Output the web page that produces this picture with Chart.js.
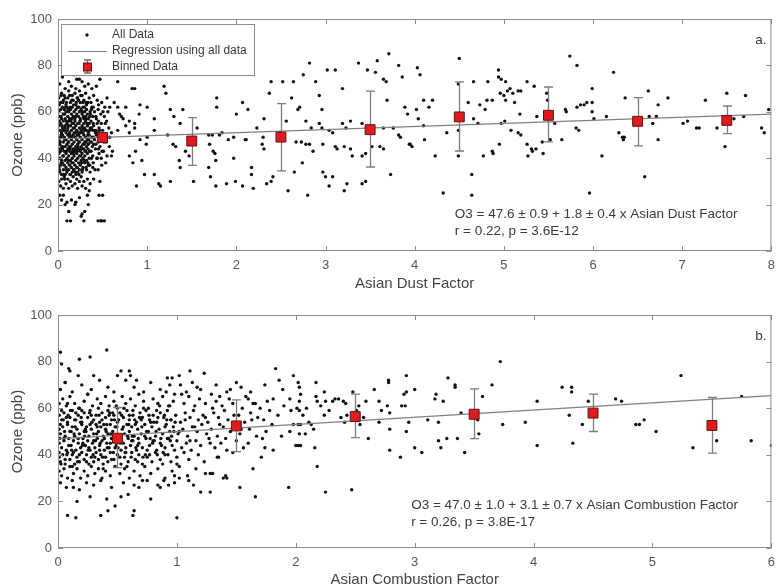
<!DOCTYPE html>
<html>
<head>
<meta charset="utf-8">
<script src="https://cdn.jsdelivr.net/npm/chart.js@4.4.1/dist/chart.umd.min.js"></script>
<style>
  html, body { margin: 0; padding: 0; background: #fff; overflow: hidden; }
  #wrap { position: relative; width: 782px; height: 587px; overflow: hidden; }
  canvas { position: absolute; left: 0; }
  #panel-a { top: 0; }
  #panel-b { top: 300px; }
</style>
</head>
<body>
<div id="wrap">
  <canvas id="panel-a" width="782" height="300"></canvas>
  <canvas id="panel-b" width="782" height="290"></canvas>
</div>
<script>
// ---- panel a : Asian Dust Factor ----
const dustBinX = [0.5, 1.5, 2.5, 3.5, 4.5, 5.5, 6.5, 7.5];
const dustBinMean = [48.9, 47.4, 49.1, 52.3, 57.8, 58.5, 55.9, 56.3];
const dustBinLow = [47.6, 36.9, 34.5, 36.2, 43.1, 47.0, 45.3, 50.6];
const dustBinHigh = [50.2, 57.5, 63.5, 68.9, 72.9, 70.7, 66.1, 62.5];
const dustRegX = [0, 8];
const dustRegY = [48.3, 59.0];
const dustNote = ['O3 = 47.6 \u00b1 0.9 + 1.8 \u00b1 0.4 x Asian Dust Factor', 'r = 0.22, p = 3.6E-12'];

// dense cluster near zero dust
const dustCluster = [
  [0.02,72],[0.05,75],[0.08,70],[0.12,73],[0.15,71],[0.18,76],[0.21,74],[0.24,74],[0.27,73],[0.3,71],[0.34,72],[0.38,70],[0.47,74],[0.43,71],[0.1,77],[0.2,70],
  [0.01,66],[0.03,64],[0.04,68],[0.06,65],[0.07,67],[0.09,63],[0.11,66],[0.12,69],[0.14,64],[0.16,67],[0.17,65],[0.19,68],[0.2,63],[0.22,66],[0.24,69],[0.25,64],[0.27,67],[0.29,65],[0.31,68],[0.32,63],[0.35,66],[0.37,64],[0.4,67],[0.44,65],[0.49,64],[0.55,66],[0.13,67],[0.23,65],[0.08,66],[0.28,64],
  [0.01,60],[0.02,58],[0.03,61],[0.04,57],[0.05,62],[0.06,59],[0.07,61],[0.08,57],[0.09,60],[0.1,62],[0.11,58],[0.12,60],[0.13,57],[0.14,61],[0.15,59],[0.16,62],[0.17,58],[0.18,60],[0.19,57],[0.2,61],[0.21,59],[0.22,62],[0.23,58],[0.24,60],[0.25,57],[0.26,61],[0.27,59],[0.28,62],[0.29,57],[0.3,60],[0.31,58],[0.32,61],[0.33,59],[0.34,57],[0.36,60],[0.38,62],[0.39,58],[0.41,60],[0.43,57],[0.45,61],[0.48,59],[0.52,58],[0.56,60],[0.58,62],
  [0.01,54],[0.02,52],[0.03,55],[0.04,51],[0.05,53],[0.06,56],[0.07,52],[0.08,54],[0.09,51],[0.1,55],[0.11,53],[0.12,56],[0.13,51],[0.14,54],[0.15,52],[0.16,55],[0.17,53],[0.18,51],[0.19,56],[0.2,54],[0.21,52],[0.22,55],[0.23,51],[0.24,53],[0.25,56],[0.26,52],[0.27,54],[0.28,51],[0.29,55],[0.3,53],[0.31,56],[0.32,52],[0.33,54],[0.34,51],[0.35,55],[0.36,53],[0.37,56],[0.39,52],[0.4,54],[0.42,51],[0.44,55],[0.46,53],[0.5,52],[0.53,55],[0.57,53],[0.6,51],
  [0.01,48],[0.02,46],[0.03,49],[0.04,45],[0.05,50],[0.06,47],[0.07,49],[0.08,45],[0.09,48],[0.1,46],[0.11,50],[0.12,47],[0.13,49],[0.14,45],[0.15,48],[0.16,46],[0.17,50],[0.18,47],[0.19,49],[0.2,45],[0.21,48],[0.22,46],[0.23,50],[0.24,47],[0.25,49],[0.26,45],[0.27,48],[0.28,46],[0.29,50],[0.3,47],[0.31,49],[0.32,45],[0.33,48],[0.34,46],[0.35,50],[0.36,47],[0.38,49],[0.4,46],[0.41,48],[0.43,50],[0.45,47],[0.47,45],[0.54,47],[0.58,49],
  [0.01,42],[0.02,40],[0.03,43],[0.04,39],[0.05,44],[0.06,41],[0.07,43],[0.08,39],[0.09,42],[0.1,40],[0.11,44],[0.12,41],[0.13,43],[0.14,39],[0.15,42],[0.16,40],[0.17,44],[0.18,41],[0.19,43],[0.2,39],[0.21,42],[0.22,40],[0.23,44],[0.24,41],[0.25,43],[0.26,39],[0.27,42],[0.28,40],[0.29,44],[0.3,41],[0.31,43],[0.32,39],[0.33,42],[0.35,40],[0.37,43],[0.39,41],[0.42,44],[0.44,40],[0.46,42],[0.51,43],[0.55,41],
  [0.01,36],[0.02,34],[0.03,37],[0.04,33],[0.05,38],[0.06,35],[0.07,37],[0.08,33],[0.09,36],[0.1,34],[0.11,38],[0.12,35],[0.13,37],[0.14,33],[0.15,36],[0.16,34],[0.17,38],[0.18,35],[0.19,37],[0.2,33],[0.21,36],[0.22,34],[0.23,38],[0.24,35],[0.25,37],[0.27,34],[0.28,36],[0.3,38],[0.32,35],[0.34,37],[0.36,34],[0.39,36],[0.45,35],[0.49,37],
  [0.01,30],[0.03,28],[0.04,31],[0.06,27],[0.07,32],[0.09,29],[0.11,31],[0.12,27],[0.14,30],[0.16,28],[0.17,32],[0.19,29],[0.21,31],[0.22,27],[0.24,30],[0.26,32],[0.27,28],[0.29,30],[0.31,27],[0.33,31],[0.36,29],[0.4,31],[0.47,30],
  [0.02,24],[0.04,22],[0.06,24],[0.08,20],[0.1,21],[0.1,13],[0.12,17],[0.14,13],[0.15,22],[0.19,20],[0.2,21],[0.24,23],[0.26,15],[0.27,16],[0.29,13],[0.3,17],[0.33,24],[0.34,20],[0.35,26],[0.45,13],[0.48,13],[0.46,24],
  [0.015,63],[0.035,50],[0.055,41],[0.075,59],[0.095,35],[0.115,47],[0.135,62],[0.155,38],[0.175,55],[0.195,44],[0.215,66],[0.235,33],[0.255,51],[0.275,60],[0.295,39],[0.315,47],[0.335,64],[0.355,43],[0.375,53],[0.395,38],[0.425,58],[0.455,44],[0.485,55],[0.515,47],
  [0.015,44],[0.035,67],[0.055,52],[0.075,31],[0.095,56],[0.115,39],[0.135,50],[0.155,65],[0.175,42],[0.195,58],[0.215,36],[0.235,55],[0.255,41],[0.275,53],[0.295,62],[0.315,36],[0.335,50],[0.355,58],[0.375,40],[0.395,62],[0.425,46],[0.455,63],[0.485,40],[0.545,56],
  [0.015,56],[0.035,38],[0.055,64],[0.075,48],[0.095,43],[0.115,61],[0.135,33],[0.155,49],[0.175,63],[0.195,34],[0.215,50],[0.235,62],[0.255,44],[0.275,35],[0.295,52],[0.315,57],[0.335,44],[0.355,37],[0.375,61],[0.395,49],[0.425,52],[0.455,56],[0.485,48],[0.575,45],
  [0.015,35],[0.035,58],[0.055,45],[0.075,53],[0.095,64],[0.115,54],[0.135,44],[0.155,57],[0.175,35],[0.195,51],[0.215,43],[0.235,47],[0.255,67],[0.275,44],[0.295,46],[0.315,64],[0.335,38],[0.355,52],[0.375,47],[0.395,55],[0.415,35],[0.445,51],[0.505,60],[0.535,38],
  [0.025,47],[0.045,54],[0.065,33],[0.085,62],[0.105,52],[0.125,45],[0.145,56],[0.165,43],[0.185,53],[0.205,64],[0.225,45],[0.245,56],[0.265,38],[0.285,58],[0.305,43],[0.325,55],[0.345,48],[0.365,59],[0.385,45],[0.405,52],[0.435,40],[0.465,52],[0.495,43],[0.525,62],
];

// scattered points at higher dust factor
const dustSpread = [
  [0.67,73],[0.83,70],[0.86,70],[1.19,71],[1.21,68],[1.78,66],[1.78,62],[2.07,64],[2.00,59],[2.13,61],
  [1.00,62],[0.92,63],[0.76,62],[0.91,59],[1.08,57],[1.26,61],[1.40,61],[1.30,58],[1.37,55],[1.56,53],
  [0.71,58],[0.80,56],[0.86,55],[0.76,54],[0.67,52],
  [1.69,50],[1.73,50],[1.81,50],[1.84,51],[1.91,48],[1.97,49],[2.10,48],[2.23,53],[2.30,49],[2.31,57],
  [2.39,73],[2.37,68],[2.52,73],[2.64,73],[2.62,66],[2.69,61],[2.75,76],[2.82,81],[2.89,73],[2.93,67],[3.02,78],[3.11,78],[3.19,70],[3.37,81],[3.47,78],[3.58,82],[3.56,77],[3.65,74],[3.68,73],[3.71,85],[3.82,80],[3.86,75],[3.69,65],[3.89,62],[3.92,59],
  [2.56,56],[2.71,62],[2.78,56],[2.84,53],[2.93,55],[2.96,53],[2.96,61],[3.04,52],[3.08,51],[3.19,55],[3.23,53],[3.28,56],[3.41,55],[3.65,53],[3.76,53],[3.84,49],[3.94,46],[3.97,45],
  [0.84,38],[0.97,33],[1.08,33],[1.13,29],[0.88,28],[1.15,28],[1.26,30],[1.37,36],[1.36,39],[1.47,41],[1.52,30],[1.69,36],[1.71,32],[1.77,28],[1.77,39],[1.74,43],[1.89,29],[1.99,30],[2.07,28],[2.19,27],[2.17,36],[2.17,33],[2.34,29],[2.39,30],[2.41,32],[2.58,26],[2.65,34],[2.80,24],[2.74,38],[2.73,47],[2.82,46],[2.97,34],[3.00,32],[3.04,28],[3.08,32],[3.21,26],[3.24,29],[3.41,29],[3.45,30],[3.45,42],[3.52,45],[3.61,45],[3.65,44],[3.73,33],[3.82,50],[3.95,46],
  [1.00,49],[1.08,52],[1.23,50],[1.29,46],[1.32,45],[1.43,43],[1.70,46],[1.76,42],[1.97,40],[2.11,48],[2.29,46],[2.31,44],[2.49,51],[2.67,47],[2.78,46],[2.86,43],[2.97,46],[3.11,45],[3.13,44],[3.21,45],[3.28,44],[3.30,41],[3.41,41],
  [0.63,64],[0.67,62],[0.69,59],[0.73,57],[0.80,51],[0.86,53],[0.92,48],[0.99,46],[0.87,43],[0.80,41],[0.94,39],[0.61,43],[0.60,41],[0.50,24],[0.49,13],[0.52,13],
  [4.03,79],[4.06,76],[4.10,65],[4.02,61],[4.16,62],[4.20,65],[4.04,57],[4.10,54],[4.11,48],[4.23,41],[4.36,51],
  [4.50,83],[4.49,72],[4.49,52],[4.49,41],[4.60,64],[4.66,73],[4.73,63],[4.66,57],[4.71,55],[4.79,61],[4.81,65],[4.82,73],[4.87,65],[4.77,41],[4.87,43],[4.88,42],[4.94,75],[4.94,78],[4.97,74],[5.02,73],[4.96,68],[5.00,67],[5.02,65],[5.07,70],[5.04,69],[5.10,68],[5.12,64],[5.16,69],[5.19,69],[4.97,55],[5.01,56],[5.08,52],[5.16,51],[5.19,50],[5.18,59],[5.26,73],[5.34,71],[5.26,46],[5.31,44],[5.32,43],[5.36,44],[5.27,41],[5.37,58],[5.43,47],[5.44,42],[5.48,68],[5.49,65],[5.52,48],[5.57,55],[5.65,48],[5.69,61],[5.70,60],[5.74,84],[5.82,80],[5.82,62],[5.81,53],[5.84,52],[5.86,63],[5.90,63],[5.93,64],[5.99,64],[5.99,70],[5.99,60],[6.01,57],[6.15,58],[6.23,77],[6.10,41],[5.96,25],[4.64,33],[4.64,24],[4.32,25],[4.95,46],
  [6.29,51],[6.33,49],[6.35,49],[6.34,48],[6.36,66],[6.58,32],[6.62,69],[6.63,58],[6.67,55],[6.71,58],[6.73,63],[6.73,48],[6.84,66],[7.01,55],[7.06,56],[7.16,53],[7.19,53],[7.26,65],[7.39,53],[7.48,45],[7.50,68],[7.54,56],[7.58,57],[7.69,58],[7.71,67],[7.89,53],[7.92,51],[7.97,61],
];

// ---- panel b : Asian Combustion Factor ----
const combBinX = [0.5, 1.5, 2.5, 3.5, 4.5, 5.5];
const combBinMean = [47.1, 52.4, 56.4, 57.4, 57.9, 52.6];
const combBinLow = [34.5, 41.4, 47.4, 46.9, 50.0, 40.7];
const combBinHigh = [60.3, 63.6, 66.0, 68.3, 66.0, 64.6];
const combRegX = [0, 6];
const combRegY = [46.8, 65.4];
const combNote = ['O3 = 47.0 \u00b1 1.0 + 3.1 \u00b1 0.7 x Asian Combustion Factor', 'r = 0.26, p = 3.8E-17'];

const combCluster = [
  [0.01,62],[0.04,64],[0.07,61],[0.1,65],[0.14,62],[0.18,60],[0.22,63],[0.25,66],[0.29,61],[0.33,64],[0.36,62],[0.4,65],[0.43,61],[0.47,63],[0.5,60],[0.54,65],[0.57,62],[0.61,64],[0.65,61],[0.68,66],[0.72,63],[0.76,60],[0.8,64],[0.84,62],[0.88,65],[0.93,61],[0.97,63],[1.06,62],[1.1,65],[1.15,61],[1.19,64],[1.24,62],[1.3,60],[1.33,63],[1.38,61],[1.44,64],[1.47,62],[1.55,60],[1.58,65],[1.66,62],[1.7,60],[1.76,63],[1.9,61],
  [0.01,57],[0.03,55],[0.05,58],[0.08,54],[0.1,56],[0.12,59],[0.15,55],[0.17,57],[0.2,54],[0.22,58],[0.25,56],[0.27,59],[0.3,55],[0.32,57],[0.35,54],[0.37,58],[0.4,56],[0.42,59],[0.45,55],[0.47,57],[0.5,54],[0.52,58],[0.55,56],[0.58,59],[0.6,55],[0.63,57],[0.66,54],[0.69,58],[0.71,56],[0.74,59],[0.77,55],[0.8,57],[0.83,54],[0.86,58],[0.89,56],[0.92,59],[0.95,55],[0.99,57],[1.03,54],[1.07,58],[1.11,56],[1.14,59],[1.18,55],[1.22,57],[1.26,54],[1.31,58],[1.35,56],[1.4,59],[1.43,55],[1.52,57],[1.57,54],[1.62,58],[1.68,56],[1.73,55],[1.85,57],
  [0.01,51],[0.02,49],[0.04,52],[0.06,48],[0.08,53],[0.1,50],[0.12,52],[0.14,48],[0.16,51],[0.18,49],[0.2,53],[0.22,50],[0.24,52],[0.26,48],[0.28,51],[0.3,49],[0.32,53],[0.34,50],[0.36,52],[0.38,48],[0.4,51],[0.42,49],[0.44,53],[0.46,50],[0.48,52],[0.52,48],[0.54,51],[0.56,49],[0.58,53],[0.6,50],[0.62,52],[0.64,48],[0.67,51],[0.7,49],[0.73,53],[0.76,50],[0.79,52],[0.82,48],[0.85,51],[0.88,49],[0.91,53],[0.94,50],[0.97,52],[1.01,49],[1.05,51],[1.09,48],[1.13,52],[1.17,50],[1.21,53],[1.25,49],[1.29,51],[1.34,48],[1.39,52],[1.45,50],[1.53,49],[1.61,51],[1.67,48],[1.75,50],
  [0.01,45],[0.03,43],[0.05,46],[0.07,42],[0.09,47],[0.11,44],[0.13,46],[0.15,42],[0.17,45],[0.19,43],[0.21,47],[0.23,44],[0.25,46],[0.27,42],[0.29,45],[0.31,43],[0.33,47],[0.35,44],[0.37,46],[0.39,42],[0.41,45],[0.43,43],[0.45,47],[0.49,44],[0.51,46],[0.53,42],[0.55,45],[0.57,43],[0.59,47],[0.61,44],[0.63,46],[0.66,42],[0.68,45],[0.71,43],[0.74,47],[0.77,44],[0.8,46],[0.83,42],[0.86,45],[0.9,43],[0.93,47],[0.96,44],[1.0,46],[1.04,43],[1.08,45],[1.12,42],[1.16,46],[1.2,44],[1.27,47],[1.32,43],[1.37,45],[1.42,42],[1.5,46],[1.56,43],[1.6,45],
  [0.01,39],[0.02,37],[0.04,40],[0.06,36],[0.08,41],[0.1,38],[0.12,40],[0.14,36],[0.16,39],[0.18,37],[0.2,41],[0.22,38],[0.24,40],[0.26,36],[0.28,39],[0.3,37],[0.32,41],[0.34,38],[0.36,40],[0.38,36],[0.4,39],[0.42,37],[0.44,41],[0.47,38],[0.5,40],[0.53,36],[0.56,39],[0.59,37],[0.62,41],[0.65,38],[0.68,40],[0.71,36],[0.75,39],[0.79,37],[0.82,41],[0.86,38],[0.9,40],[0.95,37],[1.0,39],[1.06,41],[1.1,38],[1.18,40],[1.23,37],[1.35,39],[1.47,41],
  [0.01,33],[0.03,31],[0.05,34],[0.08,30],[0.1,35],[0.13,32],[0.16,34],[0.19,30],[0.22,33],[0.25,31],[0.28,35],[0.31,32],[0.34,34],[0.37,30],[0.4,33],[0.44,31],[0.48,35],[0.52,32],[0.56,34],[0.6,30],[0.64,33],[0.69,31],[0.73,35],[0.78,32],[0.84,34],[0.9,30],[0.96,33],[1.02,35],[1.09,31],[1.16,34],[1.3,32],[1.39,30],
  [0.02,28],[0.07,26],[0.12,29],[0.18,25],[0.24,28],[0.3,27],[0.36,29],[0.45,26],[0.55,28],[0.64,27],[0.75,29],[0.86,26],[0.98,28],[1.1,29],
  [0.02,68],[0.06,71],[0.12,67],[0.2,70],[0.28,68],[0.35,72],[0.42,69],[0.47,67],[0.64,69],[0.72,67],[0.78,71],[0.86,68],[1.08,67],[1.13,71],[1.2,68],[1.33,70],[1.45,68],[1.62,67],
  [0.02,53],[0.05,47],[0.07,56],[0.09,44],[0.11,50],[0.13,41],[0.15,58],[0.17,47],[0.19,54],[0.21,45],[0.23,51],[0.26,43],[0.28,57],[0.3,46],[0.33,52],[0.35,42],[0.37,55],[0.39,47],[0.41,53],[0.44,45],[0.46,58],[0.48,43],[0.51,55],[0.53,47],[0.55,52],[0.57,41],[0.6,57],[0.62,46],[0.65,53],[0.67,44],[0.7,55],[0.73,48],[0.75,42],[0.78,54],[0.81,46],[0.84,56],[0.87,44],[0.9,52],[0.92,47],[0.95,55],[0.98,42],[1.02,50],[1.07,55],[1.11,46],[1.15,52],[1.24,56],[1.28,45],[1.36,53],[1.41,47],[1.48,57],[1.54,51],[1.63,55],[1.72,47],[1.8,53],[1.88,48],
  [0.01,41],[0.03,59],[0.06,38],[0.08,62],[0.12,35],[0.14,55],[0.18,40],[0.2,59],[0.24,37],[0.27,53],[0.31,39],[0.34,60],[0.38,34],[0.43,57],[0.45,38],[0.49,61],[0.52,39],[0.58,35],[0.63,59],[0.67,37],[0.72,60],[0.77,40],[0.83,59],[0.88,36],[0.94,61],[1.0,36],
  [0.015,47],[0.045,55],[0.075,40],[0.105,59],[0.135,49],[0.165,37],[0.195,56],[0.225,48],[0.255,42],[0.285,54],[0.315,46],[0.345,57],[0.375,39],[0.405,50],[0.435,58],[0.465,41],[0.495,52],[0.525,45],[0.555,60],[0.585,48],[0.615,39],[0.645,55],[0.675,47],[0.705,52],[0.735,40],[0.765,57],[0.795,45],[0.825,50],[0.855,61],[0.885,41],[0.915,55],[0.945,46],[0.975,50],
  [0.025,36],[0.055,50],[0.085,57],[0.115,42],[0.145,52],[0.175,60],[0.205,44],[0.235,50],[0.265,58],[0.295,40],[0.325,49],[0.355,45],[0.385,53],[0.415,43],[0.445,49],[0.475,55],[0.505,43],[0.535,57],[0.565,41],[0.595,53],[0.625,48],[0.655,43],[0.685,56],[0.715,39],[0.745,50],[0.775,47],[0.805,54],[0.835,40],[0.865,47],[0.895,57],[0.925,40],[0.955,48],[0.985,54],
];

const combSpread = [
  [0.02,84],[0.03,79],[0.41,85],[0.18,81],[0.27,82],[0.09,77],[0.10,76],[0.17,74],[0.30,74],[0.06,71],[0.25,66],[0.53,76],[0.60,76],[0.61,74],[0.50,74],[0.57,72],[0.66,72],[1.11,76],[1.23,75],[0.92,73],[0.96,73],[1.02,74],[0.94,70],[1.03,70],[0.91,67],[0.98,66],[1.04,66],[1.17,69],[1.29,66],[1.36,65],[1.42,67],[1.50,71],[1.54,69],[1.60,64],[1.64,62],[1.74,70],[1.83,77],[1.86,72],
  [1.89,68],[1.95,64],[1.81,64],[1.78,59],[1.96,59],[1.98,53],[1.95,50],[2.00,44],[1.81,42],[1.74,43],[1.71,39],[1.64,34],[1.66,22],[1.53,26],[1.94,26],[1.28,24],[1.20,24],[1.24,32],[1.28,32],[1.41,31],[1.42,30],[1.34,39],[1.00,13],[0.78,21],[0.64,16],[0.63,14],[0.48,18],[0.41,21],[0.42,16],[0.36,14],[0.15,13],[0.08,14],[0.16,20],[0.27,22],[0.13,26],[0.59,23],[0.53,22],[0.68,26],[0.71,29],[0.84,27],[0.89,29],[0.93,27],[1.14,27],[1.02,30],[0.98,31],
  [1.98,74],[2.02,71],[2.03,69],[2.04,66],[2.03,63],[2.01,60],[2.03,59],[2.06,57],[2.02,53],[2.04,53],[2.03,49],[2.08,49],[2.02,44],[2.04,44],[2.16,43],[2.18,35],[2.25,24],[2.47,25],
  [2.09,60],[2.11,54],[2.13,53],[2.15,51],[2.17,65],[2.17,71],[2.18,63],[2.21,61],[2.24,67],[2.25,63],[2.24,57],[2.28,59],[2.31,63],[2.33,64],[2.36,64],[2.40,63],[2.42,62],[2.38,56],[2.41,54],[2.43,57],[2.48,67],[2.51,59],[2.53,61],[2.54,53],[2.57,56],[2.59,63],[2.61,47],[2.66,68],[2.70,63],[2.70,54],[2.72,59],[2.78,72],[2.78,71],[2.77,61],[2.79,58],[2.79,51],[2.79,42],[2.88,39],[2.89,61],[2.92,61],[2.93,74],[2.91,66],[2.93,67],[3.00,68],[2.95,54],[2.93,50],[3.00,43],[3.06,41],[3.11,55],[3.17,64],[3.18,66],[3.20,54],[3.24,63],[3.20,46],[3.27,47],[3.22,43],[3.28,73],[3.34,70],[3.34,69],[3.36,47],[3.39,58],[3.42,41],[3.54,49],[3.53,55],[3.57,65],[3.65,70],[3.72,80],[3.74,53],[3.93,54],[4.03,63],[4.03,44],[4.24,69],[4.32,69],[4.32,67],[4.30,57],[4.33,45],[4.41,53],[4.46,63],[4.69,64],[4.74,63],[4.86,53],[4.89,53],[4.93,55],[5.03,50],[5.24,74],[5.34,43],[5.54,46],[5.75,65],[5.83,46],[6.00,44],
];

//////////////////////////////////////////////////////////////

const FONT = "'Liberation Sans', Arial, Helvetica, sans-serif";
const FRAME = '#8c8c8c';

const toPoints = (pairs) => pairs.map(([x, y]) => ({ x, y }));
const zipPoints = (xs, ys) => xs.map((x, i) => ({ x, y: ys[i] }));

const framePlugin = {
  id: 'frame',
  afterDatasetsDraw(chart) {
    const { ctx, chartArea: a, scales: { x, y } } = chart;
    ctx.save();
    ctx.strokeStyle = FRAME;
    ctx.lineWidth = 1;
    ctx.strokeRect(a.left + 0.5, a.top + 0.5, a.width - 1, a.height - 1);
    ctx.beginPath();
    x.ticks.forEach((t) => {
      const px = Math.round(x.getPixelForValue(t.value)) + 0.5;
      ctx.moveTo(px, a.bottom); ctx.lineTo(px, a.bottom - 5);
      ctx.moveTo(px, a.top); ctx.lineTo(px, a.top + 5);
    });
    y.ticks.forEach((t) => {
      const py = Math.round(y.getPixelForValue(t.value)) + 0.5;
      ctx.moveTo(a.left, py); ctx.lineTo(a.left + 5, py);
      ctx.moveTo(a.right, py); ctx.lineTo(a.right - 5, py);
    });
    ctx.stroke();
    ctx.restore();
  },
};

const makeErrorBars = (xs, lows, highs) => ({
  id: 'errorBars',
  beforeDatasetDraw(chart, args) {
    if (args.index !== 0) return;
    const { ctx, scales: { x, y } } = chart;
    ctx.save();
    ctx.strokeStyle = '#7d7d7d';
    ctx.lineWidth = 1.3;
    ctx.beginPath();
    xs.forEach((v, i) => {
      const px = Math.round(x.getPixelForValue(v)) + 0.5;
      const top = y.getPixelForValue(highs[i]);
      const bot = y.getPixelForValue(lows[i]);
      ctx.moveTo(px, top); ctx.lineTo(px, bot);
      ctx.moveTo(px - 4.5, top); ctx.lineTo(px + 4.5, top);
      ctx.moveTo(px - 4.5, bot); ctx.lineTo(px + 4.5, bot);
    });
    ctx.stroke();
    ctx.restore();
  },
});

const makeNotes = (lines, at, tag) => ({
  id: 'notes',
  afterDraw(chart) {
    const { ctx, chartArea: a, scales: { x, y } } = chart;
    ctx.save();
    ctx.fillStyle = '#3a3a3a';
    ctx.font = `13.5px ${FONT}`;
    ctx.textBaseline = 'middle';
    lines.forEach((line, i) => {
      ctx.fillText(line, x.getPixelForValue(at.x), y.getPixelForValue(at.y[i]));
    });
    ctx.textAlign = 'right';
    ctx.fillText(tag, a.right - 5, a.top + 21);
    ctx.restore();
  },
});

const legendPlugin = {
  id: 'boxLegend',
  afterDraw(chart) {
    const { ctx, chartArea: a } = chart;
    const left = a.left + 3;
    const top = a.top + 5;
    const rows = [top + 11, top + 27, top + 43];
    const mx = left + 26;
    ctx.save();
    ctx.fillStyle = '#fff';
    ctx.fillRect(left, top, 193, 51);
    ctx.strokeStyle = FRAME;
    ctx.lineWidth = 1;
    ctx.strokeRect(left + 0.5, top + 0.5, 193, 51);
    // all data
    ctx.fillStyle = '#111';
    ctx.beginPath();
    ctx.arc(mx, rows[0], 1.7, 0, Math.PI * 2);
    ctx.fill();
    // regression
    ctx.strokeStyle = '#808080';
    ctx.beginPath();
    ctx.moveTo(left + 7, rows[1] + 0.5);
    ctx.lineTo(left + 46, rows[1] + 0.5);
    ctx.stroke();
    // binned
    ctx.strokeStyle = '#6a6a6a';
    ctx.lineWidth = 1.3;
    ctx.beginPath();
    ctx.moveTo(mx + 0.5, rows[2] - 7); ctx.lineTo(mx + 0.5, rows[2] + 6);
    ctx.moveTo(mx - 3, rows[2] - 7); ctx.lineTo(mx + 4, rows[2] - 7);
    ctx.moveTo(mx - 3, rows[2] + 6); ctx.lineTo(mx + 4, rows[2] + 6);
    ctx.stroke();
    ctx.fillStyle = '#e01b1f';
    ctx.strokeStyle = '#5c1212';
    ctx.lineWidth = 1;
    ctx.fillRect(mx - 3.5, rows[2] - 4, 8, 8);
    ctx.strokeRect(mx - 3.5, rows[2] - 4, 8, 8);
    // labels
    ctx.fillStyle = '#3a3a3a';
    ctx.font = `12px ${FONT}`;
    ctx.textBaseline = 'middle';
    ctx.fillText('All Data', left + 51, rows[0]);
    ctx.fillText('Regression using all data', left + 51, rows[1]);
    ctx.fillText('Binned Data', left + 51, rows[2]);
    ctx.restore();
  },
};

const drawPanel = (canvasId, panel) => {
  const ctx = document.getElementById(canvasId).getContext('2d');
  const data = {
    datasets: [
      {
        label: 'Binned Data',
        data: zipPoints(panel.binX, panel.binMean),
        pointStyle: 'rect',
        pointRadius: 7,
        backgroundColor: '#e01b1f',
        borderColor: '#5c1212',
        borderWidth: 1,
      },
      {
        label: 'Regression using all data',
        data: zipPoints(panel.regX, panel.regY),
        showLine: true,
        pointRadius: 0,
        borderColor: '#808080',
        borderWidth: 1.2,
      },
      {
        label: 'All Data',
        data: toPoints([...panel.cluster, ...panel.spread]),
        pointRadius: 1.7,
        backgroundColor: '#111',
        borderWidth: 0,
      },
    ],
  };
  const tickFont = { family: FONT, size: 13 };
  const titleFont = { family: FONT, size: 15 };
  const config = {
    type: 'scatter',
    data: data,
    options: {
      responsive: false,
      animation: false,
      events: [],
      layout: { padding: { top: panel.padTop, right: 4, left: 0, bottom: 0 } },
      plugins: { legend: { display: false }, tooltip: { enabled: false } },
      scales: {
        x: {
          type: 'linear',
          min: 0,
          max: panel.xMax,
          ticks: { stepSize: 1, padding: 7, color: '#555', font: tickFont },
          grid: { display: false, drawTicks: false },
          border: { display: false },
          title: {
            display: true,
            text: panel.xTitle,
            color: '#444',
            font: titleFont,
            padding: { top: 0, bottom: panel.titlePad },
          },
          afterFit: (s) => { s.height = panel.xAxisHeight; },
        },
        y: {
          min: 0,
          max: 100,
          ticks: { stepSize: 20, padding: 6, color: '#555', font: tickFont },
          grid: { display: false, drawTicks: false },
          border: { display: false },
          title: {
            display: true,
            text: 'Ozone (ppb)',
            color: '#444',
            font: titleFont,
            padding: { top: 9, bottom: 0 },
          },
          afterFit: (s) => { s.width = 58; },
        },
      },
    },
    plugins: panel.plugins,
  };
  return new Chart(ctx, config);
};

drawPanel('panel-a', {
  binX: dustBinX, binMean: dustBinMean,
  regX: dustRegX, regY: dustRegY,
  cluster: dustCluster, spread: dustSpread,
  xMax: 8, xTitle: 'Asian Dust Factor',
  padTop: 19, xAxisHeight: 49, titlePad: 7,
  plugins: [
    makeErrorBars(dustBinX, dustBinLow, dustBinHigh),
    framePlugin,
    makeNotes(dustNote, { x: 4.45, y: [15.9, 8.6] }, 'a.'),
    legendPlugin,
  ],
});

drawPanel('panel-b', {
  binX: combBinX, binMean: combBinMean,
  regX: combRegX, regY: combRegY,
  cluster: combCluster, spread: combSpread,
  xMax: 6, xTitle: 'Asian Combustion Factor',
  padTop: 15, xAxisHeight: 42, titlePad: 1,
  plugins: [
    makeErrorBars(combBinX, combBinLow, combBinHigh),
    framePlugin,
    makeNotes(combNote, { x: 2.97, y: [18.4, 11.1] }, 'b.'),
  ],
});
</script>
</body>
</html>
